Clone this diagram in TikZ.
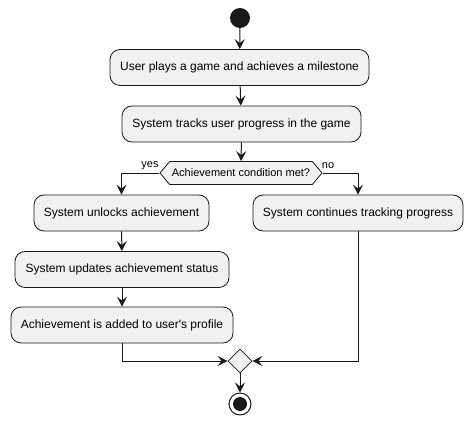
\documentclass[tikz,border=0pt]{standalone}
\usepackage{fontspec}
\setmainfont{Liberation Sans}
\usetikzlibrary{arrows.meta}
\usetikzlibrary{shapes.geometric,shapes.symbols}
\tikzset{>={Stealth[length=10pt,width=10pt,inset=4pt]}}
\definecolor{actfill}{HTML}{F1F1F1}
\definecolor{actline}{HTML}{181818}
\tikzstyle{action}=[draw=actline,fill=actfill,rounded corners=10pt,line width=0.8pt,minimum height=36pt,inner sep=0pt,font=\fontsize{12}{14}\selectfont]
\tikzstyle{decision}=[draw=actline,fill=actfill,line width=0.8pt,signal,signal to=west and east,signal pointer angle=100,minimum width=162pt,minimum height=23pt,inner sep=0pt,font=\fontsize{11}{13}\selectfont]
\tikzstyle{flow}=[draw=actline,line width=1pt]
\tikzstyle{guard}=[inner sep=0pt,font=\fontsize{11}{13}\selectfont]

\begin{document}
\begin{tikzpicture}[x=1pt,y=-1pt]
    \useasboundingbox (0,0) rectangle (473,425);
    \node[fill=actline,circle,minimum size=20pt,inner sep=0pt] (start) at (240,18) {};
    \node[action,minimum width=259pt] (play) at (239.5,67.5) {User plays a game and achieves a milestone};
    \node[action,minimum width=239pt] (track) at (241.5,124) {System tracks user progress in the game};
    \node[decision] (cond) at (241,173) {Achievement condition met?};
    \node[guard] (yes) at (150,166) {yes};
    \node[guard] (no) at (328,166) {no};
    \node[action,minimum width=175pt] (unlock) at (121.5,213) {System unlocks achievement};
    \node[action,minimum width=210pt] (cont) at (358,213) {System continues tracking progress};
    \node[action,minimum width=214pt] (status) at (122,269.5) {System updates achievement status};
    \node[action,minimum width=222pt] (added) at (122,325) {Achievement is added to user\textquotesingle s profile};
    \node[draw=actline,fill=actfill,line width=0.8pt,diamond,aspect=1,minimum size=24pt,inner sep=0pt] (merge) at (240,361) {};
    \node[draw=actline,circle,line width=1pt,minimum size=22pt,inner sep=0pt] (stop) at (240,404) {};
    \fill[actline] (stop.center) circle (7pt);

    \draw[flow,->] (start) -- (play);
    \draw[flow,->] (play) -- (track);
    \draw[flow,->] (track) -- (cond);
    \draw[flow,->] (cond.west) -| (unlock);
    \draw[flow,->] (cond.east) -| (cont);
    \draw[flow,->] (unlock) -- (status);
    \draw[flow,->] (status) -- (added);
    \draw[flow,->] (added) |- (merge);
    \draw[flow,->] (cont) |- (merge);
    \draw[flow,->] (merge) -- (stop);
\end{tikzpicture}
\end{document}
